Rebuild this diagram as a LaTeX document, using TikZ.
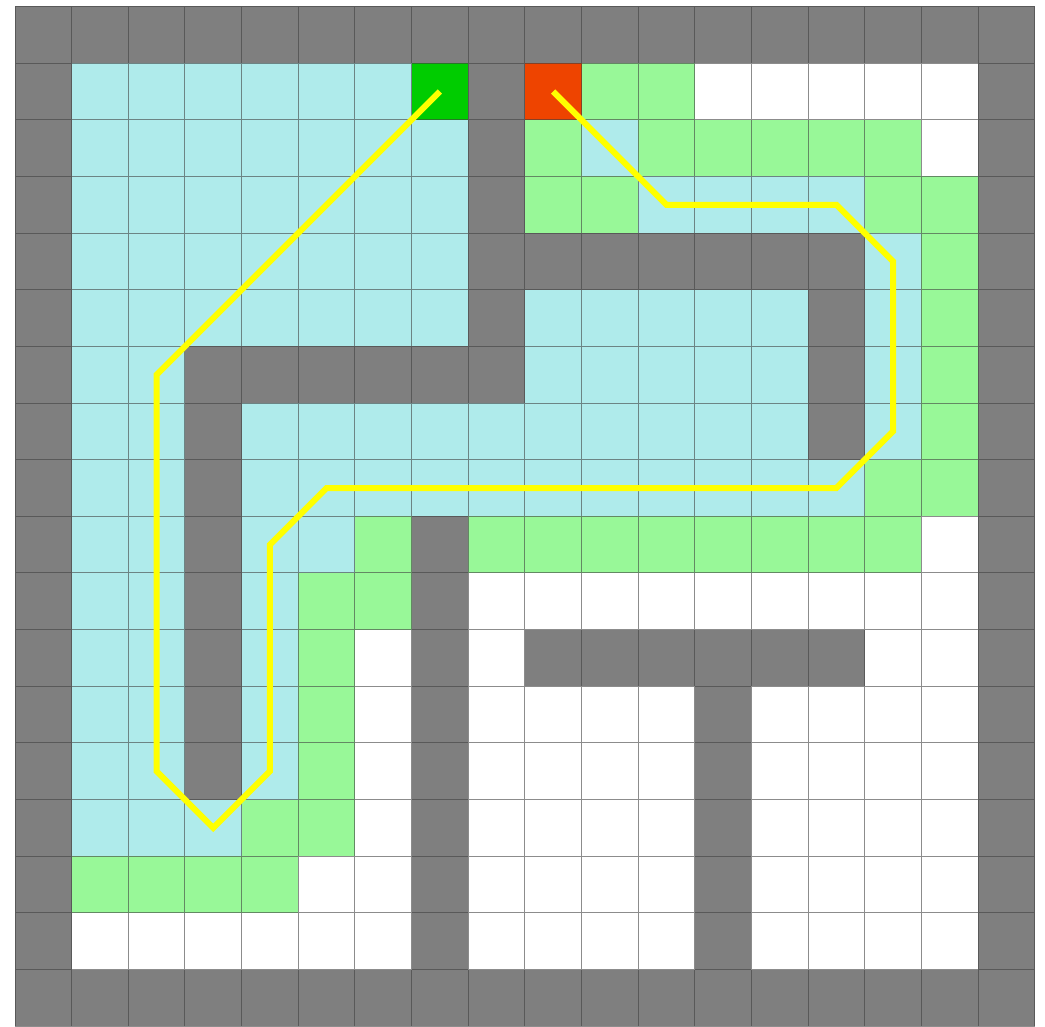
\documentclass[tikz,border=0pt]{standalone}
\usepackage{xcolor}
\usepackage{tikz}
\usetikzlibrary{arrows.meta, positioning}

\definecolor{wallgray}{HTML}{7F7F7F}
\definecolor{seencyan}{HTML}{AFEBEB}
\definecolor{opengreen}{HTML}{98F898}
\definecolor{startgreen}{HTML}{00CC00}
\definecolor{goalred}{HTML}{EE4400}
\definecolor{pathyellow}{HTML}{FFFF00}

\begin{document}
\begin{tikzpicture}[
    wall/.style={fill=wallgray},
    seen/.style={fill=seencyan},
    open/.style={fill=opengreen},
    gridline/.style={draw=black!75, line width=0.5pt, opacity=0.6},
    route/.style={draw=pathyellow, line width=3pt, miter limit=2}
]
\useasboundingbox (-0.265,-0.014) rectangle (18.182,18.115);

% Outer wall
\foreach \c in {0,...,17} {
    \fill[wall] (\c,0) rectangle ++(1,1);
    \fill[wall] (\c,17) rectangle ++(1,1);
    \fill[wall] (0,\c) rectangle ++(1,1);
    \fill[wall] (17,\c) rectangle ++(1,1);
}

% Inner walls (row/first col/last col, row 0 = top)
\foreach \r/\a/\b in {1/8/8, 2/8/8, 3/8/8, 4/8/14, 5/8/8, 5/14/14, 6/3/8, 6/14/14,
    7/3/3, 7/14/14, 8/3/3, 9/3/3, 9/7/7, 10/3/3, 10/7/7, 11/3/3, 11/7/7, 11/9/14,
    12/3/3, 12/7/7, 12/12/12, 13/3/3, 13/7/7, 13/12/12, 14/7/7, 14/12/12,
    15/7/7, 15/12/12, 16/7/7, 16/12/12}
    \foreach \c in {\a,...,\b}
        \fill[wall] (\c,17-\r) rectangle ++(1,1);

% Visited cells
\foreach \r/\a/\b in {1/1/6, 2/1/7, 2/10/10, 3/1/7, 3/11/14, 4/1/7, 4/15/15,
    5/1/7, 5/9/13, 5/15/15, 6/1/2, 6/9/13, 6/15/15, 7/1/2, 7/4/13, 7/15/15,
    8/1/2, 8/4/14, 9/1/2, 9/4/5, 10/1/2, 10/4/4, 11/1/2, 11/4/4,
    12/1/2, 12/4/4, 13/1/2, 13/4/4, 14/1/3}
    \foreach \c in {\a,...,\b}
        \fill[seen] (\c,17-\r) rectangle ++(1,1);

% Frontier cells
\foreach \r/\a/\b in {1/10/11, 2/9/9, 2/11/15, 3/9/10, 3/15/16, 4/16/16,
    5/16/16, 6/16/16, 7/16/16, 8/15/16, 9/6/6, 9/8/15, 10/5/6,
    11/5/5, 12/5/5, 13/5/5, 14/4/5, 15/1/4}
    \foreach \c in {\a,...,\b}
        \fill[open] (\c,17-\r) rectangle ++(1,1);

% Start and goal
\fill[startgreen] (7,16) rectangle ++(1,1);
\fill[goalred] (9,16) rectangle ++(1,1);

% Grid
\draw[gridline] (0,0) grid (18,18);

% Found path
\coordinate (start) at (7.5,16.5);
\coordinate (goal) at (9.5,16.5);
\draw[route] (start) -- (2.5,11.5) -- (2.5,4.5) -- (3.5,3.5) -- (4.5,4.5)
    -- (4.5,8.5) -- (5.5,9.5) -- (14.5,9.5) -- (15.5,10.5) -- (15.5,13.5)
    -- (14.5,14.5) -- (11.5,14.5) -- (goal);
\end{tikzpicture}
\end{document}
